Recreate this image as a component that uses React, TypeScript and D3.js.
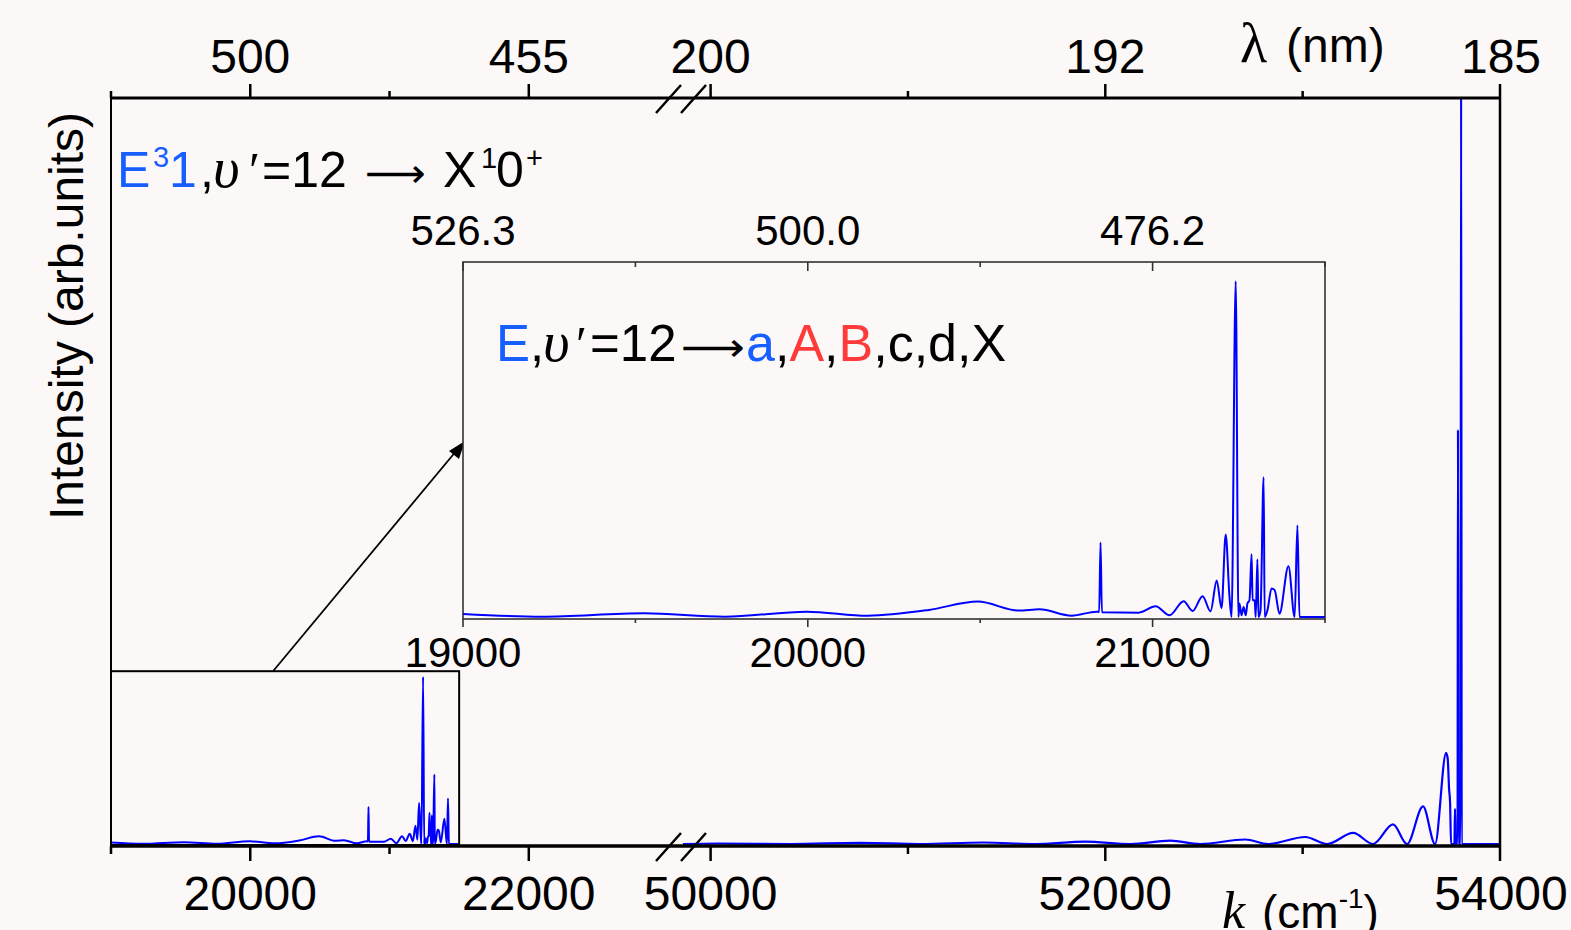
import React from "react";
import * as d3 from "d3";

const W = 1571;
const H = 930;

// Visible emission band (cm^-1, intensity normalised to the strongest visible line)
const visK = [
  19000, 19229, 19525, 19759, 19997, 20174, 20351, 20493, 20612, 20672, 20765, 20838,
  20845, 20849, 20853, 20960, 21009, 21049, 21090, 21116, 21145, 21168, 21186, 21200,
  21212, 21223, 21229, 21241, 21249, 21252, 21258, 21264, 21270, 21275, 21281, 21287,
  21290, 21296, 21299, 21304, 21307, 21313, 21322, 21325, 21333, 21345, 21354, 21368,
  21394, 21412, 21420, 21426, 21500,
];
const visI = [
  0.009, 0.001, 0.011, 0.001, 0.016, 0.004, 0.021, 0.046, 0.019, 0.023, 0.004, 0.016,
  0.015, 0.222, 0.014, 0.013, 0.032, 0.005, 0.047, 0.018, 0.062, 0.017, 0.109, 0.026,
  0.246, 0.06, 0.0, 1.0, 0.0, 0.04, 0.005, 0.03, 0.005, 0.04, 0.05, 0.187,
  0.05, 0.05, 0.0, 0.172, 0.0, 0.02, 0.416, 0.0, 0.02, 0.085, 0.08, 0.01,
  0.151, 0.0, 0.273, 0.0, 0.0,
];

// VUV emission band
const uvK = [
  49860, 50035, 50405, 50759, 51063, 51382, 51646, 51899, 52127, 52329, 52481, 52709,
  52825, 53013, 53124, 53256, 53357, 53458, 53529, 53610, 53671, 53727, 53735, 53742,
  53747, 53752, 53757, 53769, 53772, 53775, 53785, 53787, 53790, 53800, 53803, 53806,
  54000,
];
const uvI = [
  0.0, 0.003, 0.0, 0.007, 0.0, 0.009, 0.0, 0.014, 0.0, 0.02, 0.0, 0.027,
  0.0, 0.042, 0.0, 0.066, 0.0, 0.117, 0.0, 0.225, 0.0, 0.545, 0.51, 0.33,
  0.25, 0.0, 0.0, 0.0, 0.21, 0.0, 0.0, 2.48, 0.0, 0.0, 4.6, 0.0,
  0.0,
];

// Axis ticks
const leftTicks = [19000, 20000, 21000, 22000];
const leftMajor = [20000, 22000];
const rightTicks = [50000, 51000, 52000, 53000, 54000];
const rightMajor = [50000, 52000, 54000];
const leftTopLabels = ["500", "455"];
const rightTopLabels = ["200", "192", "185"];
const insetTicks = [19000, 19500, 20000, 20500, 21000, 21500];
const insetMajor = [19000, 20000, 21000];
const insetTopLabels = ["526.3", "500.0", "476.2"];

const SANS = "'Liberation Sans', Arial, 'DejaVu Sans', sans-serif";
const SERIF = "'Liberation Serif', 'Times New Roman', 'DejaVu Serif', serif";
const BLUE_TXT = "#1760ff";
const RED_TXT = "#ff3a3a";
const LINE = "#0000ff";
const BG = "#fdf8f8";

export default function App() {
  const left = 111;
  const right = 1500;
  const top = 98;
  const bottom = 845;
  const brk = 681;

  const xL = d3.scaleLinear().domain([19000, 23093]).range([left, brk]);
  const xR = d3.scaleLinear().domain([49850, 54000]).range([brk, right]);
  const y = d3.scaleLinear().domain([0, 4.47]).range([bottom, top]);

  const xI = d3.scaleLinear().domain([19000, 21500]).range([463, 1325]);
  const yI = d3.scaleLinear().domain([0, 1.057]).range([617, 262]);
  const insetTop = 262;
  const insetBottom = 619;

  const vis: [number, number][] = visK.map((k, i) => [k, visI[i]]);
  const uv: [number, number][] = uvK.map((k, i) => [k, uvI[i]]);

  const lineL = d3
    .line<[number, number]>()
    .x((d) => xL(d[0]))
    .y((d) => y(d[1]) - 1)
    .curve(d3.curveMonotoneX);
  const lineR = d3
    .line<[number, number]>()
    .x((d) => xR(d[0]))
    .y((d) => y(d[1]) - 1)
    .curve(d3.curveMonotoneX);
  const lineI = d3
    .line<[number, number]>()
    .x((d) => xI(d[0]))
    .y((d) => yI(d[1]))
    .curve(d3.curveMonotoneX);

  const axisY = bottom + 1;
  const slashes = (yy: number) =>
    [0, 25].map((off) => (
      <line
        key={`s${yy}${off}`}
        x1={656 + off}
        y1={yy + 15}
        x2={681 + off}
        y2={yy - 13}
        stroke="#000"
        strokeWidth={2.5}
      />
    ));

  const boxTop = y(1.04);
  const edgeShift = (t: number) => (t === 54000 ? 1 : 0);

  return (
    <svg
      width={W}
      height={H}
      viewBox={`0 0 ${W} ${H}`}
      style={{ position: "absolute", left: 0, top: 0, display: "block" }}
    >
      <rect x={0} y={0} width={W} height={H} fill={BG} />
      <defs>
        <clipPath id="plotClip">
          <rect x={left} y={top} width={right - left} height={bottom - top + 2} />
        </clipPath>
      </defs>

      {/* spectra in the main frame */}
      <g clipPath="url(#plotClip)">
        <path d={lineL(vis) || ""} fill="none" stroke={LINE} strokeWidth={2} />
        <path d={lineR(uv) || ""} fill="none" stroke={LINE} strokeWidth={2.2} />
      </g>

      {/* main frame */}
      <line x1={left} y1={top} x2={right} y2={top} stroke="#000" strokeWidth={3} />
      <line x1={left} y1={axisY} x2={right} y2={axisY} stroke="#000" strokeWidth={3.5} />
      <line x1={left} y1={top} x2={left} y2={axisY} stroke="#000" strokeWidth={2} />
      <line x1={right} y1={top} x2={right} y2={axisY} stroke="#000" strokeWidth={2.5} />

      {/* bottom ticks */}
      {leftTicks.map((t) => (
        <line key={`bl${t}`} x1={xL(t)} x2={xL(t)} y1={axisY} y2={axisY + (leftMajor.includes(t) ? 15 : 8)} stroke="#000" strokeWidth={2.5} />
      ))}
      {rightTicks.map((t) => (
        <line key={`br${t}`} x1={xR(t)} x2={xR(t)} y1={axisY} y2={axisY + (rightMajor.includes(t) ? 15 : 8)} stroke="#000" strokeWidth={2.5} />
      ))}
      {/* top ticks */}
      {leftTicks.map((t) => (
        <line key={`tl${t}`} x1={xL(t)} x2={xL(t)} y1={top} y2={top - (leftMajor.includes(t) ? 14 : 7)} stroke="#000" strokeWidth={2.5} />
      ))}
      {rightTicks.map((t) => (
        <line key={`tr${t}`} x1={xR(t)} x2={xR(t)} y1={top} y2={top - (rightMajor.includes(t) ? 14 : 7)} stroke="#000" strokeWidth={2.5} />
      ))}

      {slashes(top)}
      {slashes(axisY)}

      {/* tick labels */}
      <g fontFamily={SANS} fontSize={48} textAnchor="middle" fill="#000">
        {leftMajor.map((t) => (
          <text key={`lbl${t}`} x={xL(t)} y={910}>{t}</text>
        ))}
        {rightMajor.map((t) => (
          <text key={`lbr${t}`} x={xR(t) + edgeShift(t)} y={910}>{t}</text>
        ))}
        {leftMajor.map((t, i) => (
          <text key={`ltl${t}`} x={xL(t)} y={73}>{leftTopLabels[i]}</text>
        ))}
        {rightMajor.map((t, i) => (
          <text key={`ltr${t}`} x={xR(t) + edgeShift(t)} y={73}>{rightTopLabels[i]}</text>
        ))}
      </g>

      {/* axis titles */}
      <text
        transform="translate(83,316) rotate(-90)"
        textAnchor="middle"
        fontFamily={SANS}
        fontSize={48}
        fill="#000"
      >
        Intensity (arb.units)
      </text>
      <text x={1240} y={62} fontFamily={SERIF} fontSize={56} fill="#000">λ</text>
      <text x={1286} y={62} fontFamily={SANS} fontSize={48} fill="#000">(nm)</text>
      <text x={1222} y={928} fontFamily={SERIF} fontStyle="italic" fontSize={52} fill="#000">k</text>
      <text x={1262} y={928} fontFamily={SANS} fontSize={46} fill="#000">
        (cm<tspan fontSize={28} dy={-20}>-1</tspan><tspan dy={20}>)</tspan>
      </text>

      {/* main annotation */}
      <g fontFamily={SANS} fontSize={50} fill="#000">
        <text x={117} y={187} fill={BLUE_TXT}>E</text>
        <text x={153} y={167} fill={BLUE_TXT} fontSize={29}>3</text>
        <text x={169} y={187} fill={BLUE_TXT}>1</text>
        <text x={200} y={187}>,</text>
        <text x={213} y={187} fontFamily={SERIF} fontStyle="italic" fontSize={58}>υ</text>
        <text x={249} y={187} fontFamily={SERIF} fontSize={50}>′</text>
        <text x={262} y={187}>=12</text>
        <text x={365} y={187} fontFamily="'DejaVu Sans', sans-serif" fontSize={40} textLength={61} lengthAdjust="spacingAndGlyphs">⟶</text>
        <text x={443} y={187}>X</text>
        <text x={481} y={168} fontSize={29}>1</text>
        <text x={496} y={187}>0</text>
        <text x={526} y={168} fontSize={29}>+</text>
      </g>

      {/* zoom box and arrow */}
      <rect x={xL(19000)} y={boxTop} width={xL(21500) - xL(19000)} height={bottom - boxTop} fill="none" stroke="#000" strokeWidth={2} />
      <line x1={273} y1={boxTop} x2={457} y2={450} stroke="#000" strokeWidth={1.8} />
      <polygon points="465,441 449,451 459,459" fill="#000" />

      {/* inset */}
      <rect x={463} y={insetTop} width={1325 - 463} height={insetBottom - insetTop} fill={BG} stroke="#333" strokeWidth={1.6} />
      <path d={lineI(vis) || ""} fill="none" stroke={LINE} strokeWidth={2} />
      {insetTicks.map((t) => (
        <g key={`it${t}`}>
          <line x1={xI(t)} x2={xI(t)} y1={insetBottom} y2={insetBottom + (insetMajor.includes(t) ? 8 : 4)} stroke="#333" strokeWidth={1.6} />
          <line x1={xI(t)} x2={xI(t)} y1={insetTop} y2={insetTop + (insetMajor.includes(t) ? 9 : 5)} stroke="#333" strokeWidth={1.6} />
        </g>
      ))}
      <g fontFamily={SANS} fontSize={42} textAnchor="middle" fill="#000">
        {insetMajor.map((t) => (
          <text key={`ib${t}`} x={xI(t)} y={667}>{t}</text>
        ))}
        {insetMajor.map((t, i) => (
          <text key={`itl${t}`} x={xI(t)} y={245}>{insetTopLabels[i]}</text>
        ))}
      </g>

      {/* inset annotation */}
      <g fontFamily={SANS} fontSize={51} fill="#000">
        <text x={496} y={361} fill={BLUE_TXT}>E</text>
        <text x={530} y={361}>,</text>
        <text x={543} y={361} fontFamily={SERIF} fontStyle="italic" fontSize={58}>υ</text>
        <text x={576} y={361} fontFamily={SERIF} fontSize={50}>′</text>
        <text x={590} y={361}>=12</text>
        <text x={681} y={361} fontFamily="'DejaVu Sans', sans-serif" fontSize={40} textLength={64} lengthAdjust="spacingAndGlyphs">⟶</text>
        <text x={746} y={361} fontSize={52}>
          <tspan fill={BLUE_TXT}>a</tspan>
          <tspan>,</tspan>
          <tspan fill={RED_TXT}>A</tspan>
          <tspan>,</tspan>
          <tspan fill={RED_TXT}>B</tspan>
          <tspan>,c,d,X</tspan>
        </text>
      </g>
    </svg>
  );
}
